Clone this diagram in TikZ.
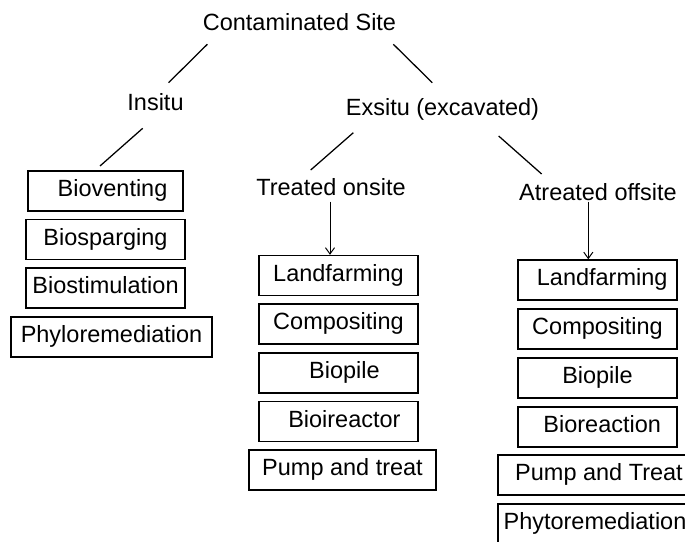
\documentclass[tikz,border=0pt]{standalone}
\usepackage{fontspec}
\setmainfont{Liberation Sans}
\usetikzlibrary{arrows.meta}

\begin{document}
\begin{tikzpicture}[x=0.025cm,y=-0.025cm,font=\fontsize{16.7}{20}\selectfont,
  lbl/.style={anchor=base,inner sep=0},
  stepbox/.style={draw,line width=1pt,inner sep=0,minimum height=1cm,text height=0.95em,text depth=0.1em},
  link/.style={line width=0.9pt}]
  \path[use as bounding box,clip] (0,0) rectangle (685,541);
  \node[lbl] (site) at (299.5,30) {Contaminated Site};
  \node[lbl] (insitu) at (155.5,110) {Insitu};
  \node[lbl] (exsitu) at (442.5,115) {Exsitu (excavated)};
  \node[lbl] (onsite) at (331,195) {Treated onsite};
  \node[lbl] (offsite) at (598,200.7) {Atreated offsite};
  \node[stepbox,minimum width=3.875cm] (vent) at (105.5,191) {\hspace{0.6em}Bioventing};
  \node[stepbox,minimum width=3.975cm] (sparg) at (105.5,239.5) {Biosparging};
  \node[stepbox,minimum width=3.975cm] (stim) at (105.5,288) {Biostimulation};
  \node[stepbox,minimum width=5.025cm] (phylo) at (111.5,337) {Phyloremediation};
  \node[stepbox,minimum width=3.975cm] (landA) at (338.5,275.5) {Landfarming};
  \node[stepbox,minimum width=3.975cm] (compA) at (338.5,324) {Compositing};
  \node[stepbox,minimum width=3.975cm] (pileA) at (338.5,373) {\hspace{0.5em}Biopile};
  \node[stepbox,minimum width=3.975cm] (reactA) at (338.5,421.5) {\hspace{0.5em}Bioireactor};
  \node[stepbox,minimum width=4.675cm] (pumpA) at (342.5,470) {Pump and treat};
  \node[stepbox,minimum width=3.975cm] (landB) at (597.5,280) {\hspace{0.4em}Landfarming};
  \node[stepbox,minimum width=3.975cm] (compB) at (597.5,329) {Compositing};
  \node[stepbox,minimum width=3.975cm] (pileB) at (597.5,378) {Biopile};
  \node[stepbox,minimum width=3.975cm] (reactB) at (597.5,427) {\hspace{0.4em}Bioreaction};
  \node[stepbox,minimum width=5.05cm] (pumpB) at (599,475) {Pump and Treat};
  \node[stepbox,minimum width=4.85cm] (phytoB) at (595,524) {Phytoremediation};
  \draw[link] ([shift={(4.7,14.3)}]site.base west) -- ([shift={(-15.3,-27.3)}]insitu.base east);
  \draw[link] ([shift={(-3,14.3)}]site.base east) -- ([shift={(-10.2,-32.3)}]exsitu.base);
  \draw[link] ([shift={(-12.8,18.3)}]insitu.base) -- ([shift={(-5.5,-4.3)}]vent.north);
  \draw[link] ([shift={(7.7,17.7)}]exsitu.base west) -- ([shift={(-20.3,-25)}]onsite.base);
  \draw[link] ([shift={(-40.7,21)}]exsitu.base east) -- ([shift={(22.7,-26.7)}]offsite.base west);
  \coordinate (a1) at ([shift={(-1,6.7)}]onsite.base);
  \draw[line width=0.7pt,-{Straight Barb[length=4.5pt,width=6.5pt]}] (a1) -- (a1 |- landA.north);
  \coordinate (a2) at ([shift={(-9.7,1)}]offsite.base);
  \draw[line width=0.7pt,-{Straight Barb[length=4.5pt,width=6.5pt]}] (a2) -- (a2 |- landB.north);
\end{tikzpicture}
\end{document}
